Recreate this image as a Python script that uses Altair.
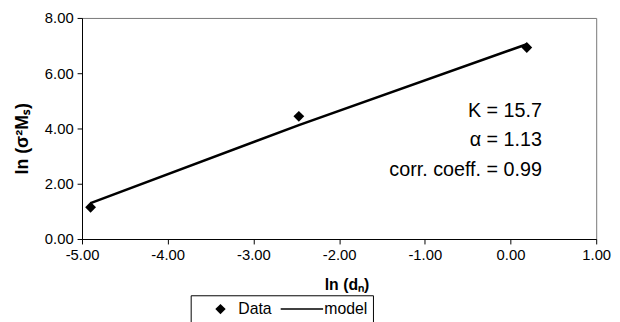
import altair as alt
import pandas as pd

# Data
data_x = [-4.90, -2.47, 0.19]
data_y = [1.15, 4.44, 6.93]
model_x = [-4.90, -2.47, 0.19]
model_y = [1.30, 4.12, 7.05]
x_ticks = [-5, -4, -3, -2, -1, 0, 1]
y_ticks = [0, 2, 4, 6, 8]
anno_text = ["K = 15.7", "\u03b1 = 1.13", "corr. coeff. = 0.99"]
legend_labels = ["Data", "model"]

FONT = "Liberation Sans"

pts = pd.DataFrame({"x": data_x, "y": data_y})
mdl = pd.DataFrame({"x": model_x, "y": model_y})

xscale = alt.Scale(domain=[-5, 1], nice=False, zero=False)
yscale = alt.Scale(domain=[0, 8], nice=False)

lab = "(datum.value < 0 ? '-' : '') + format(abs(datum.value), '.2f')"

xaxis = alt.Axis(values=x_ticks, labelExpr=lab, grid=False, title="ln (d\u2099)",
                 labelFlush=False, titleFontSize=16,
                 titleX=268, titleY=46, titleBaseline="middle", titleAlign="center")
yaxis = alt.Axis(values=y_ticks, labelExpr=lab, grid=False, title="ln (\u03c3\u00b2M\u209b)",
                 labelFlush=False, titleFontSize=18,
                 titleX=-60, titleY=122, titleBaseline="middle", titleAlign="center")

line = alt.Chart(mdl).mark_line(color="black", strokeWidth=2.6).encode(
    x=alt.X("x:Q", scale=xscale, axis=xaxis),
    y=alt.Y("y:Q", scale=yscale, axis=yaxis),
)

points = alt.Chart(pts).mark_point(shape="diamond", filled=True, color="black",
                                   size=120, opacity=1).encode(
    x=alt.X("x:Q", scale=xscale),
    y=alt.Y("y:Q", scale=yscale),
)

one = pd.DataFrame({"a": [0]})

def anno(txt, py):
    return alt.Chart(one).mark_text(align="right", baseline="middle", font=FONT,
                                    fontSize=20, color="black").encode(
        x=alt.value(466), y=alt.value(py), text=alt.value(txt))

annos = [anno(anno_text[0], 94), anno(anno_text[1], 124), anno(anno_text[2], 154)]

# Legend drawn below the plot
leg_box = alt.Chart(one).mark_rect(fill="white", stroke="black", strokeWidth=1).encode(
    x=alt.value(110.6), x2=alt.value(295.3), y=alt.value(281.5), y2=alt.value(330))
leg_pt = alt.Chart(one).mark_point(shape="diamond", filled=True, color="black",
                                   size=110, opacity=1).encode(
    x=alt.value(140.3), y=alt.value(295))
leg_line = alt.Chart(one).mark_rule(color="black", strokeWidth=1.5).encode(
    x=alt.value(201.3), x2=alt.value(244.3), y=alt.value(295))
leg_t1 = alt.Chart(one).mark_text(align="left", baseline="middle", font=FONT,
                                  fontSize=16, color="black").encode(
    x=alt.value(158.3), y=alt.value(295), text=alt.value(legend_labels[0]))
leg_t2 = alt.Chart(one).mark_text(align="left", baseline="middle", font=FONT,
                                  fontSize=16, color="black").encode(
    x=alt.value(245.5), y=alt.value(295), text=alt.value(legend_labels[1]))

chart = alt.layer(line, points, *annos, leg_box, leg_pt, leg_line, leg_t1, leg_t2).properties(
    width=521, height=224,
    autosize=alt.AutoSizeParams(type="none"),
    padding={"left": 75, "top": 8, "right": 16, "bottom": 82},
).configure_view(
    stroke="#777777", strokeWidth=1
).configure_axis(
    labelFont=FONT, labelFontSize=15, labelColor="black",
    titleFont=FONT, titleFontWeight="bold", titleColor="black",
    domainColor="black", tickColor="black", tickSize=5, labelPadding=4,
)

chart.save("out.html", embed_options={"renderer": "svg", "actions": False})
